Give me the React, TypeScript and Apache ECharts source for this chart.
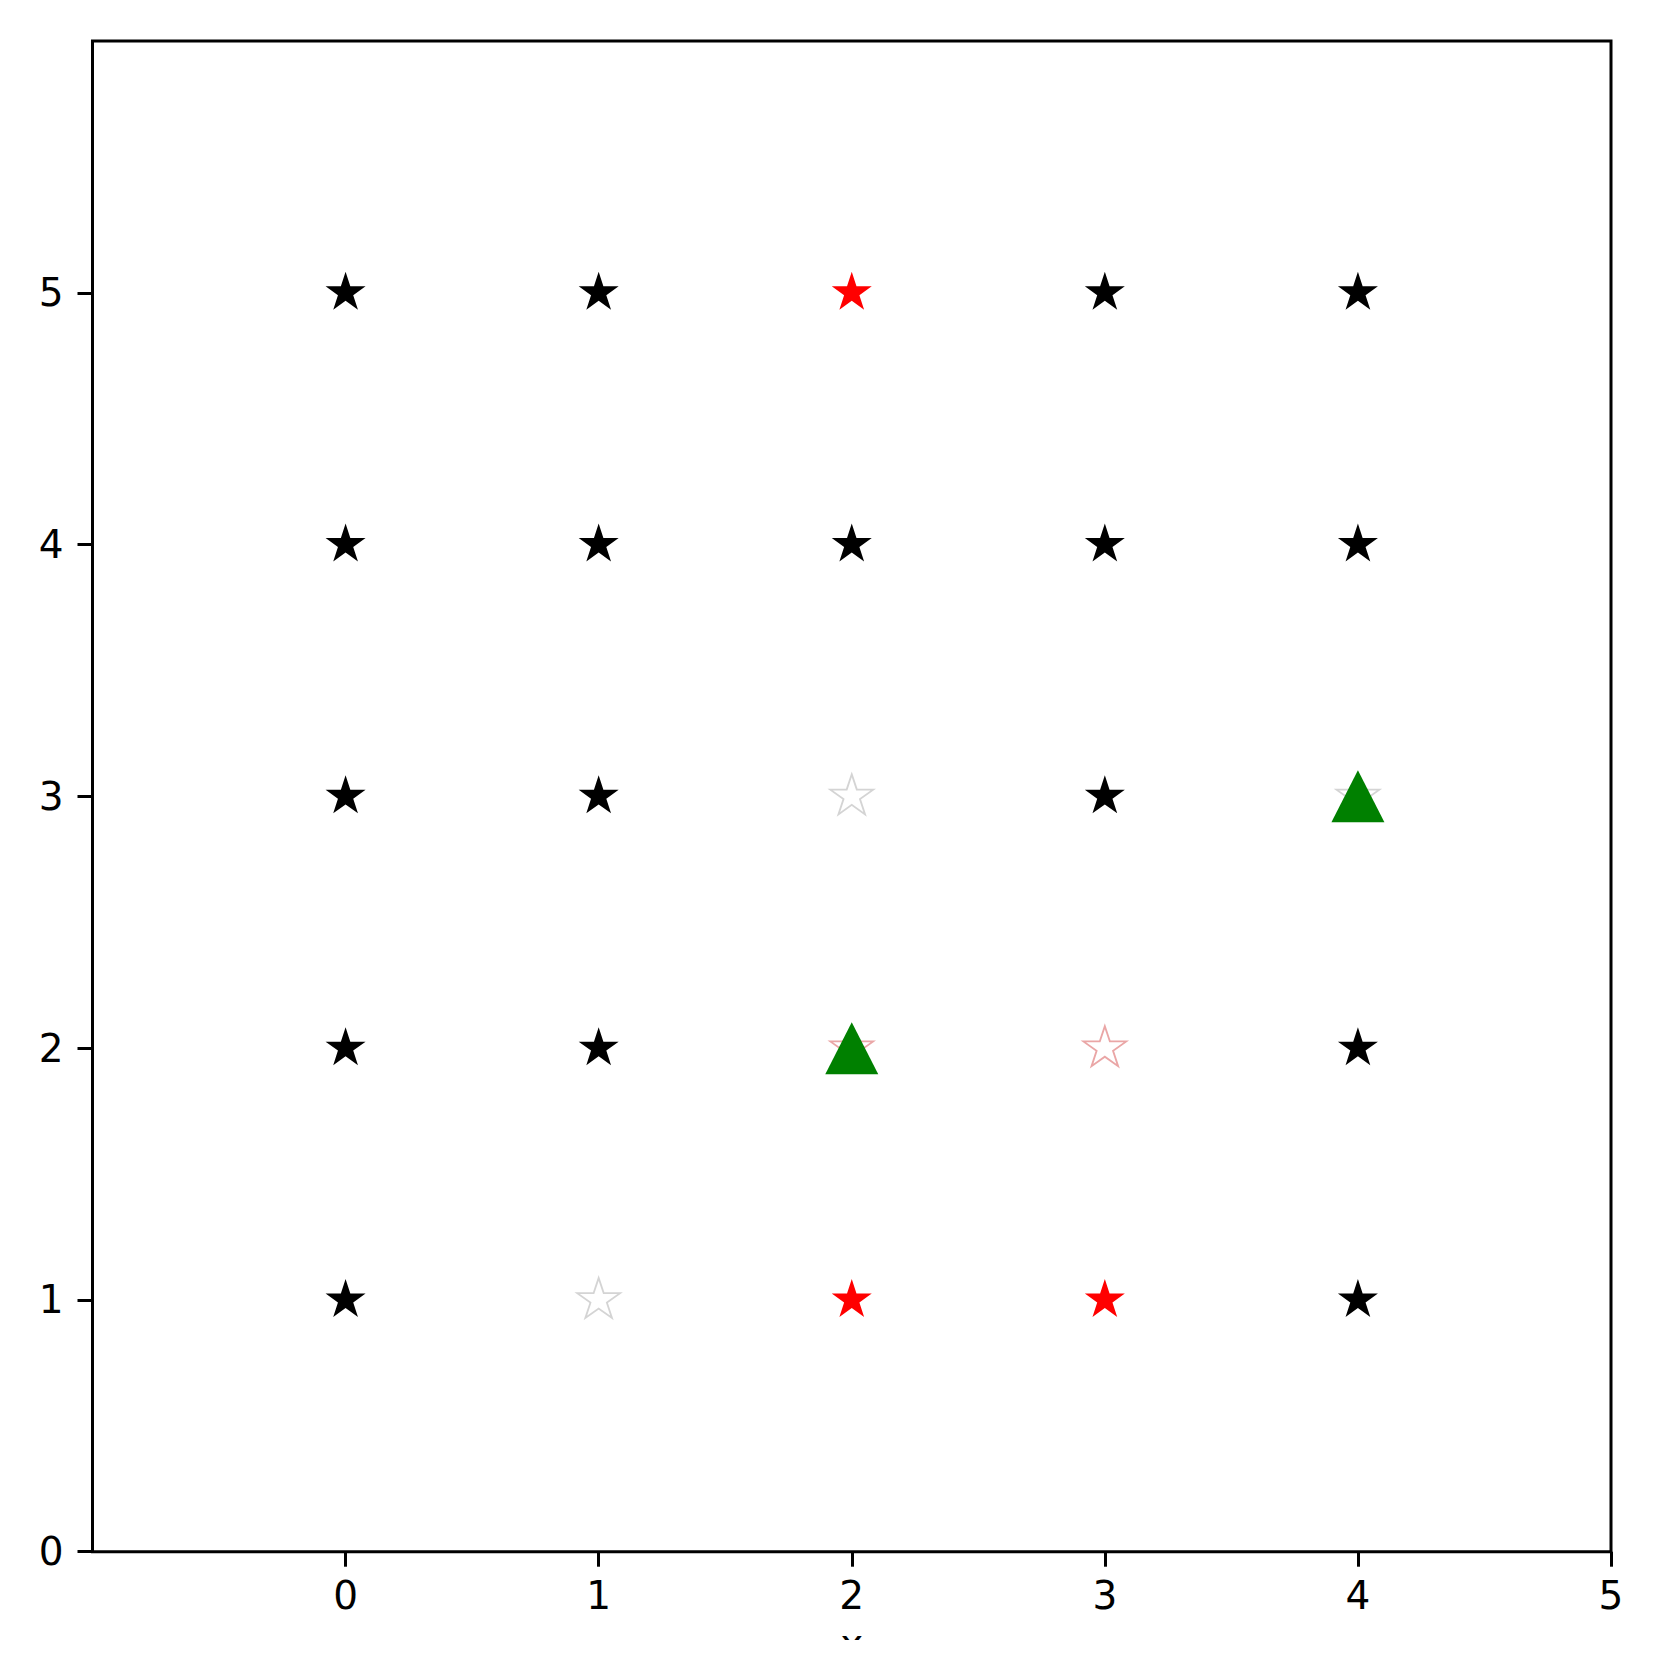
import React, { useEffect, useRef } from "react";
import * as echarts from "echarts";

const xTickValues = [0, 1, 2, 3, 4, 5];
const yTickValues = [0, 1, 2, 3, 4, 5];

const blackStars = [
  [0, 5], [1, 5], [3, 5], [4, 5],
  [0, 4], [1, 4], [2, 4], [3, 4], [4, 4],
  [0, 3], [1, 3], [3, 3],
  [0, 2], [1, 2], [4, 2],
  [0, 1], [4, 1],
];
const redStars = [[2, 5], [2, 1], [3, 1]];
const hollowGrayStars = [[2, 3], [4, 3], [1, 1]];
const hollowPinkStars = [[2, 2], [3, 2]];
const greenTriangles = [[2, 2], [4, 3]];

const STAR =
  "path://M0 -100 L22.45 -30.9 L95.11 -30.9 L36.33 11.8 L58.78 80.9 L0 38.2 L-58.78 80.9 L-36.33 11.8 L-95.11 -30.9 L-22.45 -30.9 Z";

export default function App() {
  const ref = useRef<HTMLDivElement>(null);
  useEffect(() => {
    if (!ref.current) return;
    const chart = echarts.init(ref.current, null, { renderer: "svg" });
    const font = { fontFamily: "DejaVu Sans", fontSize: 39, color: "#000" };
    chart.setOption({
      animation: false,
      backgroundColor: "#fff",
      grid: {
        left: 92.5,
        right: 43,
        top: 41,
        bottom: 88.3,
        show: true,
        borderColor: "#000",
        borderWidth: 3,
        backgroundColor: "transparent",
        outerBoundsMode: "none",
        containLabel: false,
      },
      xAxis: {
        type: "value",
        min: -1,
        max: 5,
        interval: 1,
        name: "x",
        nameLocation: "middle",
        nameGap: 72,
        nameTextStyle: { ...font },
        axisLine: { show: false, onZero: false },
        splitLine: { show: false },
        axisTick: {
          show: true,
          length: 15,
          customValues: xTickValues,
          lineStyle: { color: "#000", width: 3 },
        },
        axisLabel: {
          ...font,
          margin: 24,
          customValues: xTickValues,
          formatter: (v: number) => String(v),
        },
      },
      yAxis: {
        type: "value",
        min: 0,
        max: 6,
        interval: 1,
        axisLine: { show: false, onZero: false },
        splitLine: { show: false },
        axisTick: {
          show: true,
          length: 15,
          customValues: yTickValues,
          lineStyle: { color: "#000", width: 3 },
        },
        axisLabel: {
          ...font,
          margin: 29,
          customValues: yTickValues,
          formatter: (v: number) => String(v),
        },
      },
      series: [
        {
          type: "scatter",
          data: blackStars,
          symbol: STAR,
          symbolSize: [40, 38],
          symbolOffset: [0, -2],
          itemStyle: { color: "#000", opacity: 1 },
          z: 2,
        },
        {
          type: "scatter",
          data: redStars,
          symbol: STAR,
          symbolSize: [40, 38],
          symbolOffset: [0, -2],
          itemStyle: { color: "#ff0000", opacity: 1 },
          z: 2,
        },
        {
          type: "scatter",
          data: hollowGrayStars,
          symbol: STAR,
          symbolSize: [43, 40],
          symbolOffset: [0, -2],
          itemStyle: { color: "#fff", borderColor: "#d4d4d4", borderWidth: 1.8, opacity: 1 },
          z: 2,
        },
        {
          type: "scatter",
          data: hollowPinkStars,
          symbol: STAR,
          symbolSize: [43, 40],
          symbolOffset: [0, -2],
          itemStyle: { color: "#fff", borderColor: "#eaa6a6", borderWidth: 1.8, opacity: 1 },
          z: 2,
        },
        {
          type: "scatter",
          data: greenTriangles,
          symbol: "triangle",
          symbolSize: [53, 52],
          itemStyle: { color: "#008000", opacity: 1 },
          z: 3,
        },
      ],
    });
    return () => chart.dispose();
  }, []);
  return (
    <div style={{ position: "absolute", left: 0, top: 0, width: 1654, height: 1672, background: "#fff" }}>
      <div ref={ref} style={{ width: 1654, height: 1640 }} />
    </div>
  );
}
